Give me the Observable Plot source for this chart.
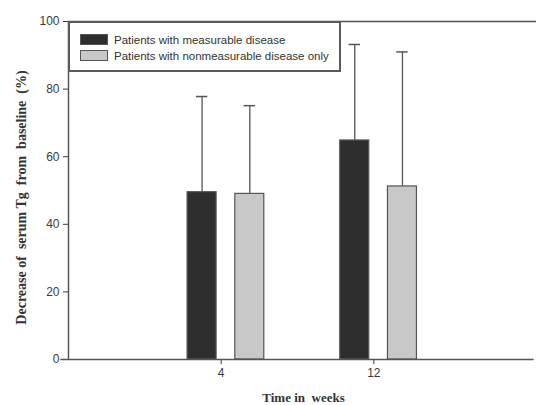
<!DOCTYPE html>
<html><head><meta charset="utf-8">
<script src="https://cdn.jsdelivr.net/npm/d3@7"></script>
<script src="https://cdn.jsdelivr.net/npm/@observablehq/plot@0.6"></script>
<style>
body{margin:0;background:#fff;}
#wrap{position:relative;width:536px;height:405px;}
#legend{position:absolute;left:68px;top:21px;width:269px;height:47px;border:2px solid #5a5a5a;background:#fff;font:11.5px "Liberation Sans",Arial,sans-serif;color:#333;}
.row{position:absolute;left:10px;height:11px;display:flex;align-items:center;}
.sw{width:26px;height:9px;border:1px solid #555;margin-right:6px;}
text{white-space:pre;}
</style>
</head><body>
<div id="wrap"></div>
<script>
const weeks = [4, 12];
const groups = ["Patients with measurable disease", "Patients with nonmeasurable disease only"];
const measurable = [49.5, 64.8];
const measurableSD = [28.3, 28.4];
const nonmeasurable = [49.0, 51.2];
const nonmeasurableSD = [26.1, 39.8];
const yTicks = [0, 20, 40, 60, 80, 100];
const colors = ["#2e2e2e", "#c8c8c8"];
const offsets = [-1, 1.5];
const xLabel = "Time in  weeks";
const yLabel = "Decrease of  serum Tg  from  baseline  (%)";

const data = [];
weeks.forEach((w, i) => {
  data.push({week: w, group: groups[0], g: 0, value: measurable[i], upper: measurable[i] + measurableSD[i]});
  data.push({week: w, group: groups[1], g: 1, value: nonmeasurable[i], upper: nonmeasurable[i] + nonmeasurableSD[i]});
});
const halfW = 0.76;
const cx = d => d.week + offsets[d.g];

const chart = Plot.plot({
  width: 536, height: 405,
  marginLeft: 68, marginTop: 21, marginBottom: 46, marginRight: 10,
  style: {fontFamily: '"Liberation Sans", Arial, sans-serif', fontSize: "12px", color: "#3a3a3a"},
  x: {type: "linear", domain: [-4, 20], ticks: weeks, tickFormat: d => String(d), label: xLabel, labelAnchor: "center", labelOffset: 42, tickSize: 5},
  y: {domain: [0, 100], ticks: yTicks, label: yLabel, labelAnchor: "center", labelOffset: 52, tickSize: 5},
  color: {domain: groups, range: colors},
  marks: [
    Plot.ruleX(data, {x: cx, y1: "value", y2: "upper", stroke: "#555", strokeWidth: 1.3}),
    Plot.ruleY(data, {y: "upper", x1: d => cx(d) - 0.3, x2: d => cx(d) + 0.3, stroke: "#555", strokeWidth: 1.5}),
    Plot.rectY(data, {x1: d => cx(d) - halfW, x2: d => cx(d) + halfW, y1: 0, y2: "value", fill: "group", stroke: "#555", strokeWidth: 1.2}),
    Plot.ruleY([100], {x1: -4, x2: 20.6, stroke: "#555", strokeWidth: 1.5}),
    Plot.ruleX([-4], {y1: 0, y2: 100, stroke: "#555", strokeWidth: 1.5}),
    Plot.ruleY([0], {x1: -4.4, x2: 20.4, stroke: "#555", strokeWidth: 1.5})
  ]
});
const wrap = document.getElementById("wrap");
wrap.appendChild(chart);
const fix = (sel, txt, dx, size) => chart.querySelectorAll(sel).forEach(t => {
  t.textContent = txt;
  t.setAttribute("font-family", '"Liberation Serif", "Times New Roman", serif');
  t.setAttribute("font-weight", "bold");
  t.setAttribute("font-size", size);
  t.setAttribute("fill", "#333");
  if (dx) t.setAttribute("dx", dx);
});
fix('[aria-label="x-axis label"] text', xLabel, 6, 13);
fix('[aria-label="y-axis label"] text', yLabel, -7, 14);
const lg = document.createElement("div");
lg.id = "legend";
groups.forEach((g, i) => {
  const r = document.createElement("div");
  r.className = "row";
  r.style.top = (11 + i * 16) + "px";
  r.innerHTML = `<span class="sw" style="background:${colors[i]}"></span><span>${g}</span>`;
  lg.appendChild(r);
});
wrap.appendChild(lg);
</script>
</body></html>
